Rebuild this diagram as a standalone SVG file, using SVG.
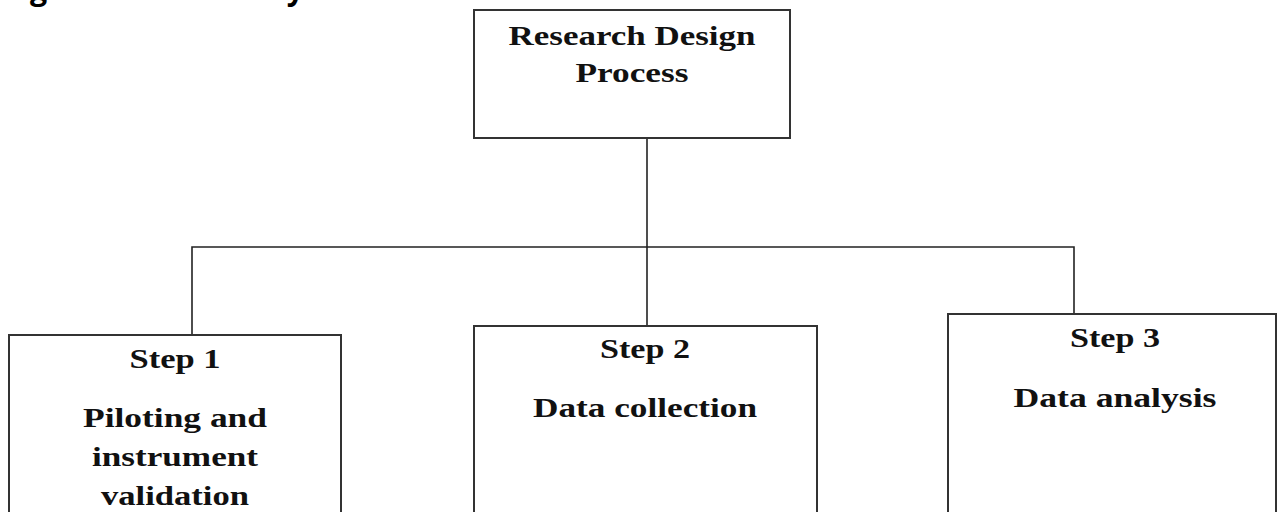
<svg xmlns="http://www.w3.org/2000/svg" width="1280" height="512" viewBox="0 0 1280 512">
<style>
.box{fill:#fff;stroke:#333;stroke-width:2}
.ln{fill:none;stroke:#222;stroke-width:1.6}
.t{font-family:"Liberation Serif","Times New Roman",serif;font-weight:bold;font-size:27px;fill:#111;text-anchor:middle}
.cap{font-family:"Open Sans","Noto Sans",sans-serif;font-weight:bold;font-size:30px;fill:#000}
</style>
<rect width="1280" height="512" fill="#fff"/>
<text class="cap" x="4" y="0" textLength="300" lengthAdjust="spacingAndGlyphs">Figure 3: Case study</text>
<g id="connectors">
<line class="ln" x1="647" y1="138" x2="647" y2="326"/>
<polyline class="ln" points="192,335 192,247 1074,247 1074,314"/>
</g>
<g id="node-root">
<rect class="box" x="474" y="10" width="316" height="128"/>
<text class="t" x="632" y="45" textLength="247" lengthAdjust="spacingAndGlyphs">Research Design</text>
<text class="t" x="632" y="82" textLength="113" lengthAdjust="spacingAndGlyphs">Process</text>
</g>
<g id="node-step1">
<rect class="box" x="9" y="335" width="332" height="190"/>
<text class="t" x="175" y="368" textLength="91" lengthAdjust="spacingAndGlyphs">Step 1</text>
<text class="t" x="175" y="427" textLength="184" lengthAdjust="spacingAndGlyphs">Piloting and</text>
<text class="t" x="175" y="466" textLength="166" lengthAdjust="spacingAndGlyphs">instrument</text>
<text class="t" x="175" y="505" textLength="148" lengthAdjust="spacingAndGlyphs">validation</text>
</g>
<g id="node-step2">
<rect class="box" x="474" y="326" width="343" height="200"/>
<text class="t" x="645" y="358" textLength="90" lengthAdjust="spacingAndGlyphs">Step 2</text>
<text class="t" x="645" y="417" textLength="224" lengthAdjust="spacingAndGlyphs">Data collection</text>
</g>
<g id="node-step3">
<rect class="box" x="948" y="314" width="328" height="210"/>
<text class="t" x="1115" y="347" textLength="90" lengthAdjust="spacingAndGlyphs">Step 3</text>
<text class="t" x="1115" y="407" textLength="203" lengthAdjust="spacingAndGlyphs">Data analysis</text>
</g>
</svg>
